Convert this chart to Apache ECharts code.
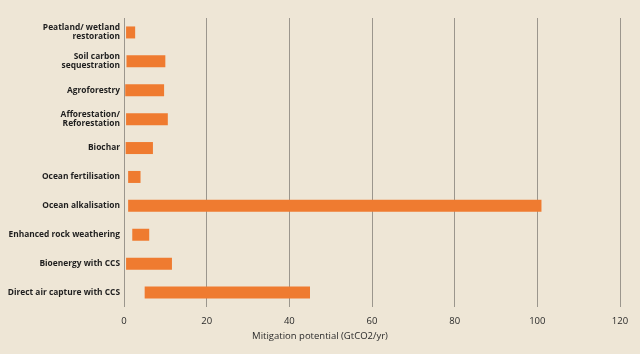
<!DOCTYPE html>
<html>
<head>
<meta charset="utf-8">
<script src="https://cdn.jsdelivr.net/npm/echarts@6/dist/echarts.min.js"></script>
<style>
  html, body { margin: 0; padding: 0; background: #eee6d6; }
  #mychart { width: 640px; height: 354px; }
</style>
</head>
<body>
<div id="mychart"></div>
<script>
"use strict";
// removal methods, top to bottom
const categories = [
    'Peatland/ wetland\nrestoration',
    'Soil carbon\nsequestration',
    'Agroforestry',
    'Afforestation/\nReforestation',
    'Biochar',
    'Ocean fertilisation',
    'Ocean alkalisation',
    'Enhanced rock weathering',
    'Bioenergy with CCS',
    'Direct air capture with CCS'
];
// low and high end of each range (GtCO2/yr)
const lows = [0.5, 0.6, 0.3, 0.5, 0.4, 1, 1, 2, 0.5, 5];
const highs = [2.7, 10, 9.7, 10.6, 7, 4, 101, 6.1, 11.6, 45];
const ticks = [0, 20, 40, 60, 80, 100, 120];

const container = document.getElementById('mychart');
const myChart = echarts.init(container);

const spans = highs.map((h, i) => +(h - lows[i]).toFixed(2));

const option = {
    backgroundColor: '#eee6d6',
    animation: false,
    grid: {
        left: 124,
        right: 20,
        top: 18,
        bottom: 47,
        outerBoundsMode: 'none',
        containLabel: false
    },
    xAxis: {
        type: 'value',
        min: ticks[0],
        max: ticks[ticks.length - 1],
        interval: 20,
        name: 'Mitigation potential (GtCO2/yr)',
        nameLocation: 'middle',
        nameGap: 20,
        nameTextStyle: {
            color: '#2a2a2a',
            fontFamily: 'Open Sans',
            fontSize: 9.5,
            padding: [0, 104, 0, 0]
        },
        axisLine: { show: false },
        axisTick: { show: false },
        axisLabel: {
            color: '#2a2a2a',
            fontFamily: 'Open Sans',
            fontSize: 9.5,
            margin: 9
        },
        splitLine: {
            show: true,
            lineStyle: { color: '#9b968d', width: 1 }
        }
    },
    yAxis: {
        type: 'category',
        data: categories,
        inverse: true,
        axisLine: { show: false },
        axisTick: { show: false },
        axisLabel: {
            color: '#1e1e1e',
            fontFamily: 'Open Sans',
            fontWeight: 'bold',
            fontSize: 8.4,
            lineHeight: 9,
            margin: 4
        }
    },
    series: [
        {
            type: 'bar',
            stack: 'range',
            data: lows,
            barWidth: 12,
            itemStyle: { color: 'transparent' },
            silent: true
        },
        {
            type: 'bar',
            stack: 'range',
            data: spans,
            barWidth: 12,
            itemStyle: { color: '#ef7b30' }
        }
    ]
};
myChart.setOption(option);
</script>
</body>
</html>
